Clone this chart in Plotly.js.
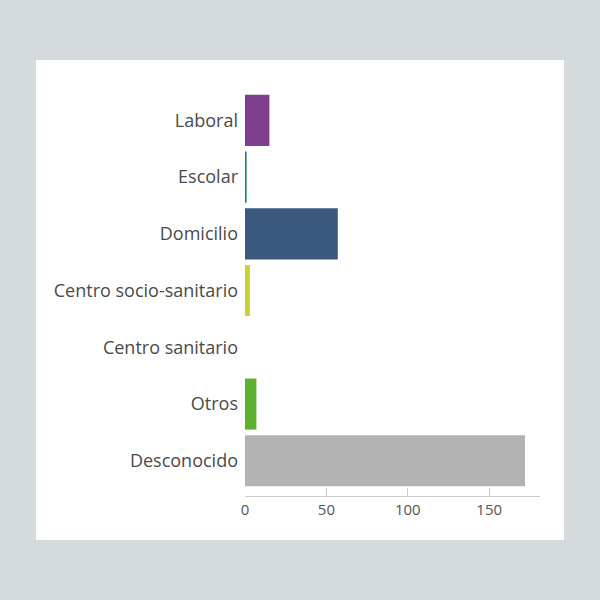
<!DOCTYPE html>
<html>
<head>
<meta charset="utf-8">
<script src="https://cdn.plot.ly/plotly-3.0.1.min.js"></script>
<style>
  html, body { margin: 0; padding: 0; width: 600px; height: 600px; background: #d5dbdc; overflow: hidden; }
  #chart { position: absolute; left: 36px; top: 60px; width: 528px; height: 480px; }
</style>
</head>
<body>
<div id="chart"></div>
<script>
const categories = ["Laboral", "Escolar", "Domicilio", "Centro socio-sanitario", "Centro sanitario", "Otros", "Desconocido"];
const values = [15, 1, 57, 3, 0, 7, 172];
const colors = ["#7e3f8f", "#128a72", "#3c5a80", "#c4d433", "#999999", "#5eb030", "#b3b3b3"];
const xTicks = [0, 50, 100, 150];

const trace = {
  type: "bar",
  orientation: "h",
  x: values,
  y: categories,
  marker: { color: colors },
  hoverinfo: "x+y"
};

const layout = {
  width: 528,
  height: 480,
  margin: { l: 209, r: 24, t: 32, b: 44 },
  paper_bgcolor: "#ffffff",
  plot_bgcolor: "#ffffff",
  showlegend: false,
  bargap: 0.1,
  font: { family: "Open Sans, sans-serif", color: "#444444" },
  xaxis: {
    range: [0, 181.2],
    tickvals: xTicks,
    ticktext: xTicks.map(String),
    showgrid: false,
    zeroline: false,
    showline: true,
    linecolor: "#cccccc",
    linewidth: 1,
    ticks: "inside",
    ticklen: 8,
    tickcolor: "#cccccc",
    tickfont: { size: 15, color: "#555555" }
  },
  yaxis: {
    type: "category",
    categoryorder: "array",
    categoryarray: categories,
    range: [6.62, -0.5],
    showgrid: false,
    zeroline: false,
    showline: false,
    ticks: "",
    ticklabelstandoff: 6,
    tickfont: { size: 18, color: "#4a4a4a" }
  }
};

Plotly.newPlot("chart", [trace], layout, { displayModeBar: false, staticPlot: true });
</script>
</body>
</html>
